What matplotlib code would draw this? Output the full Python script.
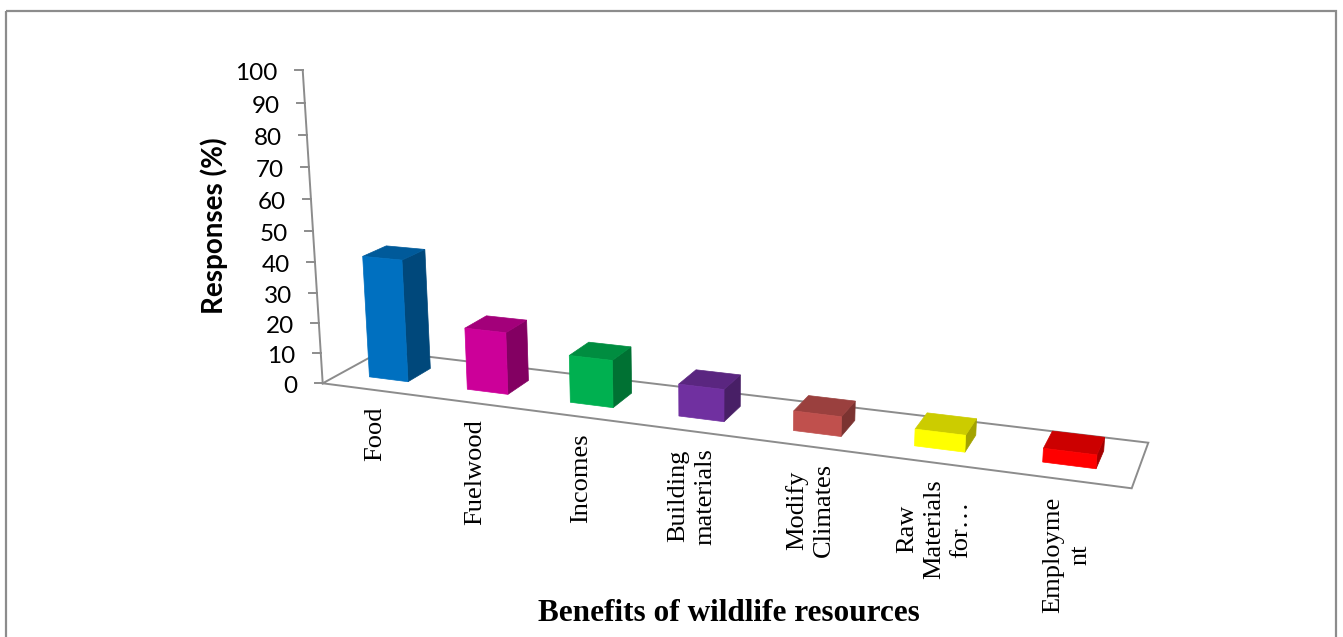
import numpy as np
import matplotlib
matplotlib.use("Agg")
import matplotlib.pyplot as plt
from matplotlib.patches import Polygon, Rectangle
from matplotlib.colors import to_rgb

# Survey responses per benefit category (%)
categories = ["Food", "Fuelwood", "Incomes", "Building\nmaterials",
              "Modify\nClimates", "Raw\nMaterials\nfor…", "Employme\nnt"]
responses = [40, 20, 15, 10, 6, 5, 4]
bar_colors = ["#0070C0", "#CC0099", "#00B050", "#7030A0",
              "#C0504D", "#FFFF00", "#FF0000"]
y_ticks = [0, 10, 20, 30, 40, 50, 60, 70, 80, 90, 100]
y_label = "Responses (%)"
x_label = "Benefits of wildlife resources"

W, H = 1343, 637
fig = plt.figure(figsize=(W / 100, H / 100), dpi=100)
ax = fig.add_axes([0, 0, 1, 1])
ax.set_xlim(0, W)
ax.set_ylim(H, 0)
ax.axis("off")

# ---- perspective camera for the 3-D column chart -------------------------
n = len(categories)
floor_uv = [(0, 0), (n, 0), (n, 1), (0, 1)]
floor_px = [(322.7, 383.3), (1131.7, 488.3), (1148.3, 442.7), (381.4, 351.1)]
vertical_vp = np.array([713.0, 6500.0, 1.0])   # vanishing point of verticals
axis_top_y = 70.0                               # screen y of the 100 % level
y_max = y_ticks[-1]


def fit_homography(src, dst):
    rows = []
    for (u, v), (x, y) in zip(src, dst):
        rows.append([u, v, 1, 0, 0, 0, -x * u, -x * v, -x])
        rows.append([0, 0, 0, u, v, 1, -y * u, -y * v, -y])
    _, _, vt = np.linalg.svd(np.array(rows, float))
    h = vt[-1].reshape(3, 3)
    if h[2, 2] < 0:
        h = -h
    return h


Hm = fit_homography(floor_uv, floor_px)
base = Hm[:, 2]
lam = (axis_top_y * base[2] - base[1]) / (y_max * (vertical_vp[1] - axis_top_y))


def proj(u, d, h):
    p = Hm[:, 0] * u + Hm[:, 1] * d + Hm[:, 2] + lam * h * vertical_vp
    return p[0] / p[2], p[1] / p[2]


grey = "#8c8c8c"

# floor outline
pts = [proj(u, d, 0) for u, d in floor_uv] + [proj(0, 0, 0)]
ax.plot([p[0] for p in pts], [p[1] for p in pts], color=grey, lw=1.4,
        zorder=1, solid_joinstyle="miter")

# vertical axis with ticks and labels
x0, yb = proj(0, 0, 0)
x1, yt = proj(0, 0, y_max)
ax.plot([x0, x1], [yb, yt], color=grey, lw=1.4, zorder=1)
for t in y_ticks:
    tx, ty = proj(0, 0, t)
    ax.plot([tx - 8, tx], [ty, ty], color=grey, lw=1.4, zorder=1)
    ax.text(tx - 25, ty + 10, str(t), ha="right", va="baseline",
            fontsize=17.5, family="Lato", color="black")


def shade(color, k):
    r, g, b = to_rgb(color)
    return (r * k, g * k, b * k)


# columns
bw0, bw1 = 0.3, 0.7
for i, (val, col) in enumerate(zip(responses, bar_colors)):
    u0, u1 = i + bw0, i + bw1
    d0, d1 = bw0, bw1
    front = [proj(u0, d0, 0), proj(u1, d0, 0), proj(u1, d0, val), proj(u0, d0, val)]
    top = [proj(u0, d0, val), proj(u1, d0, val), proj(u1, d1, val), proj(u0, d1, val)]
    side = [proj(u1, d0, 0), proj(u1, d1, 0), proj(u1, d1, val), proj(u1, d0, val)]
    for poly, k in ((side, 0.64), (top, 0.8), (front, 1.0)):
        ax.add_patch(Polygon(poly, closed=True, facecolor=shade(col, k),
                             edgecolor=shade(col, k), lw=0.5, zorder=3))

# category labels
for i, lab in enumerate(categories):
    lx, ly = proj(i + 0.5, 0, 0)
    ax.text(lx + 4, ly + 17, lab, rotation=90, ha="center", va="top",
            multialignment="center", linespacing=1.3, fontsize=19,
            family="Liberation Serif", color="black")

# axis titles
ax.text(214, 226, y_label, rotation=90, ha="center", va="center",
        fontsize=20, fontweight="bold", family="Lato", color="black")
ax.text(728.5, 621, x_label, ha="center", va="baseline",
        fontsize=22.5, fontweight="bold", family="Liberation Serif", color="black")

# chart border
ax.add_patch(Rectangle((6, 11), 1330, 700, fill=False, edgecolor=grey,
                       lw=1.6, zorder=5, clip_on=True))

fig.savefig("out.png", dpi=100, facecolor="white")
